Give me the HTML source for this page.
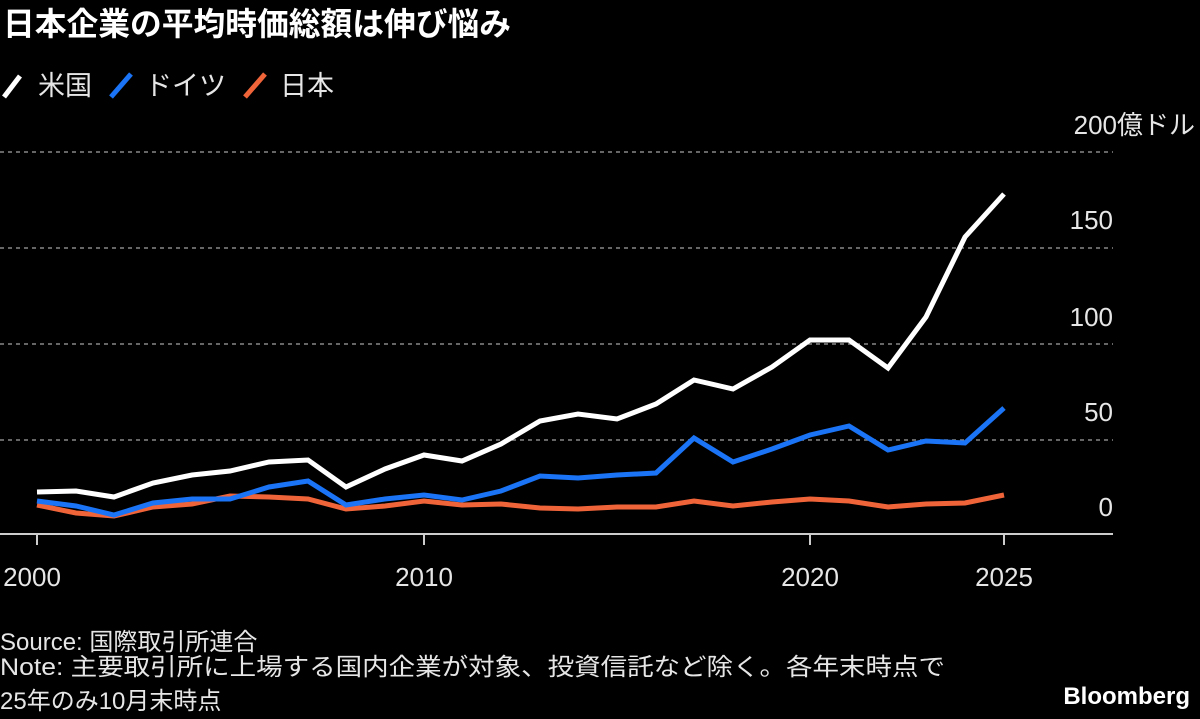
<!DOCTYPE html>
<html><head><meta charset="utf-8"><style>
html,body{margin:0;padding:0;background:#000;width:1200px;height:719px;overflow:hidden}
svg{display:block}
text{font-family:"Liberation Sans","Noto Sans CJK JP",sans-serif;fill:#e6e6e6}
</style></head><body>
<svg width="1200" height="719" viewBox="0 0 1200 719">
<text x="3" y="35" font-size="32" font-weight="bold" fill="#fff" style="fill:#fff" textLength="508" lengthAdjust="spacingAndGlyphs">日本企業の平均時価総額は伸び悩み</text>
<g stroke-width="5" stroke-linecap="butt">
<line x1="4" y1="97" x2="20" y2="76" stroke="#fff"/>
<line x1="111" y1="97" x2="131" y2="74" stroke="#1a74f5"/>
<line x1="245" y1="97" x2="265" y2="74" stroke="#f0643a"/>
</g>
<text x="38" y="95" font-size="27">米国</text>
<text x="145" y="95" font-size="27">ドイツ</text>
<text x="280" y="95" font-size="27">日本</text>
<g stroke="#888" stroke-width="1.5" stroke-dasharray="4,4">
<line x1="0" y1="152" x2="1113" y2="152"/>
<line x1="0" y1="248" x2="1113" y2="248"/>
<line x1="0" y1="344" x2="1113" y2="344"/>
<line x1="0" y1="440" x2="1113" y2="440"/>
</g>
<g font-size="26" text-anchor="end">
<text x="1195" y="134">200億ドル</text>
<text x="1113" y="229">150</text>
<text x="1113" y="326">100</text>
<text x="1113" y="421">50</text>
<text x="1113" y="516">0</text>
</g>
<line x1="0" y1="534" x2="1113" y2="534" stroke="#ccc" stroke-width="2"/>
<g stroke="#ccc" stroke-width="2">
<line x1="37" y1="534" x2="37" y2="545"/>
<line x1="424" y1="534" x2="424" y2="545"/>
<line x1="810" y1="534" x2="810" y2="545"/>
<line x1="1004" y1="534" x2="1004" y2="545"/>
</g>
<g font-size="26" text-anchor="middle">
<text x="32" y="586">2000</text>
<text x="424" y="586">2010</text>
<text x="810" y="586">2020</text>
<text x="1004" y="586">2025</text>
</g>
<g fill="none" stroke-width="5" stroke-linejoin="miter">
<polyline stroke="#f0643a" points="37,505 76,513 114,516 153,507 192,504 230,496 269,497 308,499 346,509 385,506 424,501 462,505 501,504 540,508 578,509 617,507 656,507 694,501 733,506 772,502 810,499 849,501 888,507 926,504 965,503 1004,495"/>
<polyline stroke="#1a74f5" points="37,501 76,506 114,515 153,503 192,499 230,499 269,487 308,481 346,505 385,499 424,495 462,500 501,491 540,476 578,478 617,475 656,473 694,438 733,462 772,449 810,435 849,426 888,450 926,441 965,443 1004,408"/>
<polyline stroke="#fff" points="37,492 76,491 114,497 153,483 192,475 230,471 269,462 308,460 346,487 385,469 424,455 462,461 501,444 540,421 578,414 617,419 656,404 694,380 733,389 772,367 810,340 849,340 888,368 926,317 965,237 1004,194"/>
</g>
<g font-size="24">
<text x="0" y="650">Source: 国際取引所連合</text>
<text x="0" y="675" textLength="945" lengthAdjust="spacingAndGlyphs">Note: 主要取引所に上場する国内企業が対象、投資信託など除く。各年末時点で</text>
<text x="0" y="709">25年のみ10月末時点</text>
</g>
<text x="1190" y="704" font-size="24" font-weight="bold" text-anchor="end" style="fill:#fff">Bloomberg</text>
</svg>
</body></html>
